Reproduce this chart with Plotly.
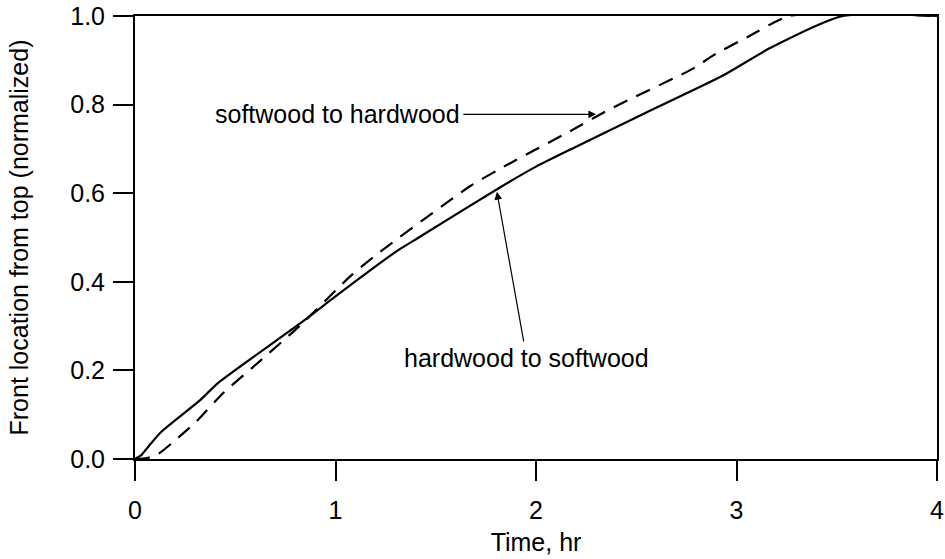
import plotly.graph_objects as go

# hardwood to softwood (solid)
hs_time = [0, 0.03, 0.07, 0.13, 0.325, 0.415, 0.82, 1.0, 1.215, 1.315, 1.415, 1.82, 2.0, 2.2, 2.54, 2.93, 3.165, 3.53, 4.0]
hs_front = [0, 0.008, 0.03, 0.061, 0.133, 0.172, 0.305, 0.367, 0.44, 0.472, 0.50, 0.613, 0.66, 0.705, 0.78, 0.865, 0.927, 1.0, 1.0]

# softwood to hardwood (dashed)
sh_time = [0, 0.06, 0.115, 0.215, 0.305, 0.44, 0.61, 0.82, 1.08, 1.215, 1.665, 1.82, 2.17, 2.37, 2.79, 2.88, 3.065, 3.265, 4.0]
sh_front = [0, 0.002, 0.011, 0.048, 0.084, 0.149, 0.216, 0.30, 0.415, 0.465, 0.614, 0.655, 0.74, 0.79, 0.883, 0.91, 0.955, 1.0, 1.0]

x_ticks = [0, 1, 2, 3, 4]
y_ticks = [0.0, 0.2, 0.4, 0.6, 0.8, 1.0]

font = dict(family="Liberation Sans, Arial, sans-serif", size=25, color="black")

fig = go.Figure()
fig.add_trace(go.Scatter(x=hs_time, y=hs_front, mode="lines", line_shape="spline",
                         line=dict(color="black", width=2.2, smoothing=0.6), showlegend=False))
fig.add_trace(go.Scatter(x=sh_time, y=sh_front, mode="lines", line_shape="spline",
                         line=dict(color="black", width=2.2, dash="15px,10px", smoothing=0.6),
                         showlegend=False))

# arrows
fig.add_annotation(x=2.30, y=0.778, ax=1.63, ay=0.778, axref="x", ayref="y",
                   xref="x", yref="y", text="", showarrow=True,
                   arrowhead=2, arrowsize=1.3, arrowwidth=1.2, arrowcolor="black")
fig.add_annotation(x=1.805, y=0.603, ax=1.94, ay=0.262, axref="x", ayref="y",
                   xref="x", yref="y", text="", showarrow=True,
                   arrowhead=2, arrowsize=1.3, arrowwidth=1.2, arrowcolor="black")

# labels
fig.add_annotation(x=1.63, y=0.778, xref="x", yref="y", text="softwood to hardwood",
                   showarrow=False, xanchor="right", yanchor="middle", font=font)
fig.add_annotation(x=1.955, y=0.228, xref="x", yref="y", text="hardwood to softwood",
                   showarrow=False, xanchor="center", yanchor="middle", font=font)

axis_common = dict(showline=True, linecolor="black", linewidth=2, mirror=True,
                   ticks="outside", ticklen=20, tickwidth=2, tickcolor="black",
                   showgrid=False, zeroline=False, tickfont=font, automargin=False,
                   ticklabeloverflow="allow")

fig.update_xaxes(range=[0, 4], tickvals=x_ticks, ticklabelstandoff=8,
                 title=dict(text="Time, hr", font=font, standoff=10), **axis_common)
fig.update_yaxes(range=[0, 1], tickvals=y_ticks, tickformat=".1f", ticklabelstandoff=3,
                 title=dict(text="Front location from top (normalized)", font=font, standoff=34),
                 **axis_common)

fig.update_layout(width=945, height=559, margin=dict(l=135, r=8, t=16, b=100),
                  plot_bgcolor="white", paper_bgcolor="white", font=font)

# drop the default 8px body margin so the figure sits at the page corner
fig.write_html("out.html", config={"displayModeBar": False},
               post_script="document.body.style.margin='0';")
